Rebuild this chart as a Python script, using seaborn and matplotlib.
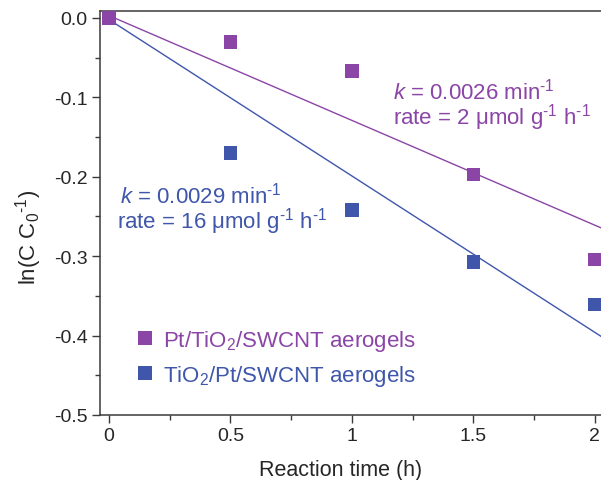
import matplotlib
matplotlib.use('Agg')
import matplotlib.pyplot as plt
import seaborn as sns
import pandas as pd
from matplotlib.ticker import MultipleLocator, FuncFormatter

# data
time_h = [0, 0.5, 1, 1.5, 2]
pt_tio2_swcnt = [0.0, -0.030, -0.067, -0.197, -0.304]
tio2_pt_swcnt = [0.0, -0.170, -0.242, -0.307, -0.361]
sample_names = ['Pt/TiO$_2$/SWCNT aerogels', 'TiO$_2$/Pt/SWCNT aerogels']
sample_colors = ['#8b45a6', '#3f56aa']

# linear fits (intercept, slope)
fit_intercepts = [0.003, -0.002]
fit_slopes = [-0.132, -0.197]
fit_x = [0.02, 2.05]

sns.set_style('ticks')
plt.rcParams['font.family'] = ['Liberation Sans', 'DejaVu Sans']
plt.rcParams['mathtext.fontset'] = 'custom'
plt.rcParams['mathtext.rm'] = 'Liberation Sans'
plt.rcParams['mathtext.it'] = 'Liberation Sans:italic'
plt.rcParams['axes.unicode_minus'] = False

# blue rows first so the purple marker sits on top at t=0
df = pd.DataFrame({
    'time': time_h + time_h,
    'lnC': tio2_pt_swcnt + pt_tio2_swcnt,
    'sample': [sample_names[1]] * 5 + [sample_names[0]] * 5,
})

fig = plt.figure(figsize=(6.01, 4.81), dpi=100)
ax = fig.add_axes([100 / 601, 65 / 481, 501 / 601, 404 / 481])

for a, b, c in zip(fit_intercepts, fit_slopes, sample_colors):
    sns.lineplot(x=fit_x, y=[a + b * x for x in fit_x], color=c, linewidth=1.0, ax=ax, legend=False)

sns.scatterplot(data=df, x='time', y='lnC', hue='sample', hue_order=sample_names,
                palette=sample_colors, marker='s', s=95, linewidth=0, ax=ax, zorder=3)

handles, labels = ax.get_legend_handles_labels()
ax.legend(handles, labels, labelcolor=sample_colors, frameon=False, fontsize=16,
          loc='upper left', bbox_to_anchor=(138 / 601, 1 - 329 / 481),
          bbox_transform=fig.transFigure, borderpad=0, borderaxespad=0,
          handlelength=0.6, handletextpad=0.52, labelspacing=0.45)

sup = '$^{\\text{-}1}$'
ax.text(393 / 601, 1 - 92 / 481, '$k$ = 0.0026 min' + sup, color=sample_colors[0],
        fontsize=16, ha='left', va='center', transform=fig.transFigure)
ax.text(393 / 601, 1 - 118 / 481, 'rate = 2 μmol g' + sup + ' h' + sup, color=sample_colors[0],
        fontsize=16, ha='left', va='center', transform=fig.transFigure)
ax.text(120 / 601, 1 - 196 / 481, '$k$ = 0.0029 min' + sup, color=sample_colors[1],
        fontsize=16, ha='left', va='center', transform=fig.transFigure)
ax.text(117 / 601, 1 - 222 / 481, 'rate = 16 μmol g' + sup + ' h' + sup, color=sample_colors[1],
        fontsize=16, ha='left', va='center', transform=fig.transFigure)

ax.set_xlim(-0.037, 2.025)
ax.set_ylim(-0.5, 0.0088)
ax.xaxis.set_major_locator(MultipleLocator(0.5))
ax.xaxis.set_minor_locator(MultipleLocator(0.25))
ax.yaxis.set_major_locator(MultipleLocator(0.1))
ax.yaxis.set_minor_locator(MultipleLocator(0.05))
ax.xaxis.set_major_formatter(FuncFormatter(lambda v, p: f'{v:g}'))
ax.yaxis.set_major_formatter(FuncFormatter(lambda v, p: f'{v:.1f}' if abs(v) > 1e-9 else '0.0'))

ax.tick_params(which='both', direction='out', color='#3a3a3a', width=1.0, top=False, right=False)
ax.tick_params(which='major', length=5.5, labelsize=14, pad=3.5)
ax.tick_params(which='minor', length=3.5)

for side in ['left', 'bottom', 'top']:
    ax.spines[side].set_color('#3a3a3a')
    ax.spines[side].set_linewidth(1.1)
ax.spines['right'].set_visible(False)

ax.set_xlabel('Reaction time (h)', fontsize=15.5)
ax.set_ylabel('ln(C C$_{\\mathrm{0}}$' + sup + ')', fontsize=16)
ax.xaxis.set_label_coords(0.481, -0.108)
ax.yaxis.set_label_coords(-0.112, 0.443)
ax.xaxis.label.set_va('top')

plt.savefig('out.png', dpi=100)
